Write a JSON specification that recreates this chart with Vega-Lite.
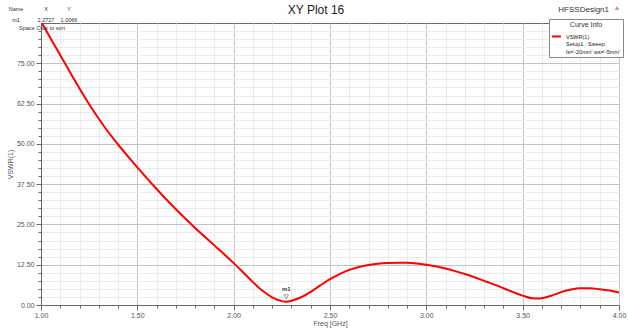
{
  "$schema": "https://vega.github.io/schema/vega-lite/v6.json",
  "width": 578,
  "height": 282,
  "autosize": {"type": "none"},
  "padding": {"left": 41, "top": 23, "right": 9, "bottom": 31},
  "background": "white",
  "title": {"text": "XY Plot 16", "font": "Liberation Sans", "fontSize": 12, "fontWeight": "normal", "color": "#222222", "anchor": "middle", "frame": "group", "dx": -14, "offset": -11},
  "config": {
    "view": {"stroke": "#6a6a6a", "strokeWidth": 1},
    "axis": {"labelFont": "Liberation Sans", "titleFont": "Liberation Sans", "labelFontSize": 7, "titleFontSize": 7, "labelColor": "#555555", "titleColor": "#555555", "titleFontWeight": "normal", "domainColor": "#6a6a6a", "tickColor": "#6a6a6a"}
  },
  "resolve": {"axis": {"x": "independent", "y": "independent"}},
  "datasets": {
    "curve": [
      {"freq": 1.00, "vswr": 88.0},
      {"freq": 1.05, "vswr": 82.7},
      {"freq": 1.10, "vswr": 77.5},
      {"freq": 1.15, "vswr": 72.3},
      {"freq": 1.20, "vswr": 67.2},
      {"freq": 1.25, "vswr": 62.3},
      {"freq": 1.30, "vswr": 57.8},
      {"freq": 1.35, "vswr": 53.6},
      {"freq": 1.40, "vswr": 49.8},
      {"freq": 1.45, "vswr": 46.2},
      {"freq": 1.50, "vswr": 42.7},
      {"freq": 1.60, "vswr": 36.0},
      {"freq": 1.70, "vswr": 29.7},
      {"freq": 1.80, "vswr": 23.9},
      {"freq": 1.90, "vswr": 18.5},
      {"freq": 2.00, "vswr": 13.0},
      {"freq": 2.05, "vswr": 10.1},
      {"freq": 2.10, "vswr": 7.1},
      {"freq": 2.15, "vswr": 4.4},
      {"freq": 2.20, "vswr": 2.4},
      {"freq": 2.25, "vswr": 1.2},
      {"freq": 2.2727, "vswr": 1.0066},
      {"freq": 2.30, "vswr": 1.3},
      {"freq": 2.35, "vswr": 2.4},
      {"freq": 2.40, "vswr": 4.1},
      {"freq": 2.45, "vswr": 6.1},
      {"freq": 2.50, "vswr": 8.0},
      {"freq": 2.55, "vswr": 9.6},
      {"freq": 2.60, "vswr": 10.9},
      {"freq": 2.65, "vswr": 11.8},
      {"freq": 2.70, "vswr": 12.4},
      {"freq": 2.75, "vswr": 12.8},
      {"freq": 2.80, "vswr": 13.0},
      {"freq": 2.85, "vswr": 13.1},
      {"freq": 2.90, "vswr": 13.1},
      {"freq": 2.95, "vswr": 12.9},
      {"freq": 3.00, "vswr": 12.5},
      {"freq": 3.05, "vswr": 12.0},
      {"freq": 3.10, "vswr": 11.3},
      {"freq": 3.15, "vswr": 10.5},
      {"freq": 3.20, "vswr": 9.6},
      {"freq": 3.25, "vswr": 8.6},
      {"freq": 3.30, "vswr": 7.5},
      {"freq": 3.35, "vswr": 6.4},
      {"freq": 3.40, "vswr": 5.2},
      {"freq": 3.45, "vswr": 4.0},
      {"freq": 3.50, "vswr": 2.9},
      {"freq": 3.55, "vswr": 2.1},
      {"freq": 3.58, "vswr": 2.0},
      {"freq": 3.60, "vswr": 2.1},
      {"freq": 3.65, "vswr": 2.9},
      {"freq": 3.70, "vswr": 4.0},
      {"freq": 3.75, "vswr": 4.8},
      {"freq": 3.80, "vswr": 5.2},
      {"freq": 3.85, "vswr": 5.2},
      {"freq": 3.90, "vswr": 4.9},
      {"freq": 3.95, "vswr": 4.5},
      {"freq": 4.00, "vswr": 3.9}
    ],
    "marker": [{"name": "m1", "freq": 2.2727, "vswr": 1.0066}]
  },
  "layer": [
    {
      "data": {"name": "curve"},
      "mark": {"type": "line", "strokeWidth": 2, "clip": true, "interpolate": "monotone"},
      "encoding": {
        "x": {"field": "freq", "type": "quantitative", "scale": {"domain": [1, 4], "nice": false, "zero": false},
          "axis": {"title": "Freq [GHz]", "titlePadding": 1, "labelOverlap": false, "labelBound": false, "labelFlush": false,
            "values": [1.0,1.1,1.2,1.3,1.4,1.5,1.6,1.7,1.8,1.9,2.0,2.1,2.2,2.3,2.4,2.5,2.6,2.7,2.8,2.9,3.0,3.1,3.2,3.3,3.4,3.5,3.6,3.7,3.8,3.9,4.0],
            "labelExpr": "abs(datum.value*2 - round(datum.value*2)) < 0.001 ? format(datum.value, '.2f') : ''",
            "labelPadding": 1,
            "grid": true,
            "gridColor": {"condition": {"test": "abs(datum.value*2 - round(datum.value*2)) < 0.001", "value": "#c4c4c4"}, "value": "#ebebeb"},
            "tickSize": {"condition": {"test": "abs(datum.value*2 - round(datum.value*2)) < 0.001", "value": 5}, "value": 3}
          }},
        "y": {"field": "vswr", "type": "quantitative", "scale": {"domain": [0, 87.5], "nice": false},
          "axis": {"title": "VSWR(1)", "titlePadding": 3, "labelOverlap": false, "labelBound": false, "labelFlush": false,
            "values": [0,2.5,5,7.5,10,12.5,15,17.5,20,22.5,25,27.5,30,32.5,35,37.5,40,42.5,45,47.5,50,52.5,55,57.5,60,62.5,65,67.5,70,72.5,75,77.5,80,82.5,85],
            "labelExpr": "abs(datum.value/12.5 - round(datum.value/12.5)) < 0.001 ? format(datum.value, '.2f') : ''",
            "labelPadding": 2,
            "grid": true,
            "gridColor": {"condition": {"test": "abs(datum.value/12.5 - round(datum.value/12.5)) < 0.001", "value": "#c4c4c4"}, "value": "#ebebeb"},
            "tickSize": {"condition": {"test": "abs(datum.value/12.5 - round(datum.value/12.5)) < 0.001", "value": 5}, "value": 3}
          }},
        "color": {"datum": "VSWR(1)", "type": "nominal",
          "scale": {"range": ["#ff0000"]},
          "legend": {"title": "Curve Info", "orient": "top-right", "offset": -4, "titleFont": "Liberation Sans", "titleFontSize": 7, "titleFontWeight": "normal", "titleColor": "#333333", "titleAnchor": "middle", "titlePadding": 3,
            "labelFont": "Liberation Sans", "labelFontSize": 5.5, "labelColor": "#222222", "labelLineHeight": 6.5,
            "labelExpr": "['VSWR(1)', 'Setup1 : Sweep', \"ls='-20mm' ws='-5mm'\"]",
            "symbolType": "stroke", "symbolStrokeWidth": 2, "symbolSize": 80, "symbolOffset": 0,
            "fillColor": "white", "strokeColor": "#888888", "padding": 2, "cornerRadius": 0}
        }
      }
    },
    {
      "data": {"name": "marker"},
      "mark": {"type": "point", "shape": "triangle-down", "filled": false, "size": 22, "color": "#555555", "strokeWidth": 0.8},
      "encoding": {
        "x": {"field": "freq", "type": "quantitative", "axis": null},
        "y": {"field": "vswr", "type": "quantitative", "axis": null},
        "yOffset": {"value": -5}
      }
    },
    {
      "data": {"name": "marker"},
      "mark": {"type": "text", "font": "Liberation Sans", "fontSize": 6, "fontWeight": "bold", "color": "#444444", "dy": -13},
      "encoding": {
        "x": {"field": "freq", "type": "quantitative", "axis": null},
        "y": {"field": "vswr", "type": "quantitative", "axis": null},
        "text": {"field": "name"}
      }
    },
    {
      "data": {"values": [{"label": "HFSSDesign1"}]},
      "mark": {"type": "text", "font": "Liberation Sans", "fontSize": 8, "color": "#333333", "align": "right", "dy": -13, "dx": -10, "clip": false},
      "encoding": {
        "x": {"datum": 4.0, "type": "quantitative", "axis": null},
        "y": {"datum": 87.5, "type": "quantitative", "axis": null},
        "text": {"field": "label"}
      }
    },
    {
      "data": {"values": [{"label": "HFSSDesign1"}]},
      "mark": {"type": "point", "shape": "triangle-up", "filled": true, "size": 18, "color": "#d23c3c", "clip": false},
      "encoding": {
        "x": {"datum": 4.0, "type": "quantitative", "axis": null},
        "y": {"datum": 87.5, "type": "quantitative", "axis": null},
        "xOffset": {"value": -2},
        "yOffset": {"value": -15}
      }
    },
    {
      "data": {"name": "marker"},
      "mark": {"type": "text", "font": "Liberation Sans", "fontSize": 5.5, "color": "#333333", "align": "center", "baseline": "top", "lineHeight": 11, "dx": -25, "dy": -16, "clip": false},
      "encoding": {
        "x": {"datum": 1.0, "type": "quantitative", "axis": null},
        "y": {"datum": 87.5, "type": "quantitative", "axis": null},
        "text": {"value": ["Name", "m1"]}
      }
    },
    {
      "data": {"name": "marker"},
      "mark": {"type": "text", "font": "Liberation Sans", "fontSize": 5.5, "color": "#333333", "align": "center", "baseline": "top", "lineHeight": 11, "dx": 5, "dy": -16, "clip": false},
      "encoding": {
        "x": {"datum": 1.0, "type": "quantitative", "axis": null},
        "y": {"datum": 87.5, "type": "quantitative", "axis": null},
        "text": {"value": ["X", "2.2727"]}
      }
    },
    {
      "data": {"name": "marker"},
      "mark": {"type": "text", "font": "Liberation Sans", "fontSize": 5.5, "color": "#333333", "align": "center", "baseline": "top", "lineHeight": 11, "dx": 28, "dy": -16, "clip": false},
      "encoding": {
        "x": {"datum": 1.0, "type": "quantitative", "axis": null},
        "y": {"datum": 87.5, "type": "quantitative", "axis": null},
        "text": {"value": ["Y", "1.0066"]}
      }
    },
    {
      "data": {"name": "marker"},
      "mark": {"type": "text", "font": "Liberation Sans", "fontSize": 5.5, "color": "#333333", "align": "center", "baseline": "middle", "dx": 1, "dy": 5, "clip": false},
      "encoding": {
        "x": {"datum": 1.0, "type": "quantitative", "axis": null},
        "y": {"datum": 87.5, "type": "quantitative", "axis": null},
        "text": {"value": "Space Click to sort"}
      }
    }
  ]
}
